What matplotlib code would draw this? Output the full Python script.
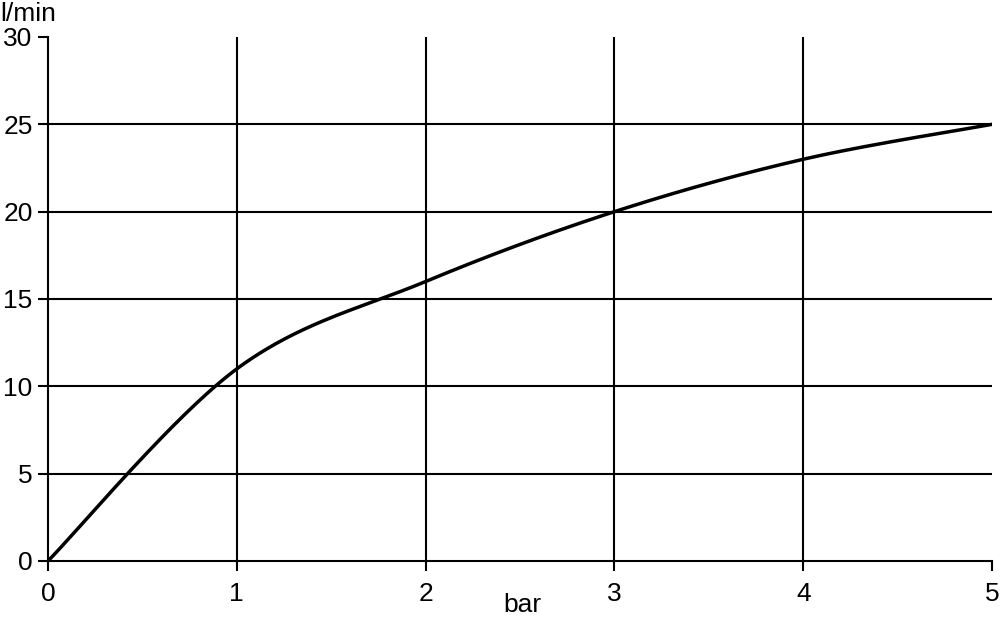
import numpy as np
import matplotlib
matplotlib.use("Agg")
import matplotlib.pyplot as plt

pressure_bar = [0, 1, 2, 3, 4, 5]
flow_lpm = [0, 11, 16, 20, 23, 25]
x_ticks = [0, 1, 2, 3, 4, 5]
y_ticks = [0, 5, 10, 15, 20, 25, 30]

plt.rcParams['font.family'] = ['Liberation Sans', 'DejaVu Sans']

def smooth(xs, ys, n=60):
    P = np.column_stack([xs, ys]).astype(float)
    Pe = np.vstack([P[0], P, P[-1]])
    out = []
    t = np.linspace(0, 1, n)[:, None]
    for i in range(len(P) - 1):
        p0, p1 = Pe[i + 1], Pe[i + 2]
        c1 = p0 + (Pe[i + 2] - Pe[i]) / 6
        c2 = p1 - (Pe[i + 3] - Pe[i + 1]) / 6
        seg = ((1 - t) ** 3) * p0 + 3 * ((1 - t) ** 2) * t * c1 + 3 * (1 - t) * t ** 2 * c2 + t ** 3 * p1
        out.append(seg if i == 0 else seg[1:])
    S = np.vstack(out)
    return S[:, 0], S[:, 1]

fig = plt.figure(figsize=(10, 6.17), dpi=100)
ax = fig.add_axes([0.048, (617 - 561) / 617, 0.944, (561 - 37) / 617])

sx, sy = smooth(pressure_bar, flow_lpm)

for xv in x_ticks[1:-1]:
    ax.axvline(xv, color='black', lw=1.5, zorder=1)
for yv in y_ticks[1:-1]:
    ax.axhline(yv, color='black', lw=1.5, zorder=1)

ax.plot(sx, sy, color='black', lw=2.5, zorder=3, solid_capstyle='round')

ax.set_xlim(0, 5)
ax.set_ylim(0, 30)
ax.set_xticks(x_ticks)
ax.set_yticks(y_ticks)
ax.tick_params(direction='out', length=7, width=1.5, labelsize=19)
ax.tick_params(axis='x', pad=8)
ax.tick_params(axis='y', pad=4)
for s in ['top', 'right']:
    ax.spines[s].set_visible(False)
for s in ['left', 'bottom']:
    ax.spines[s].set_linewidth(1.5)

fig.text(0.0, 1 - 14 / 617, 'l/min', fontsize=19, ha='left', va='center')
fig.text(522 / 1000, 1 - 605 / 617, 'bar', fontsize=19, ha='center', va='center')

fig.savefig('out.png', dpi=100, facecolor='white')
